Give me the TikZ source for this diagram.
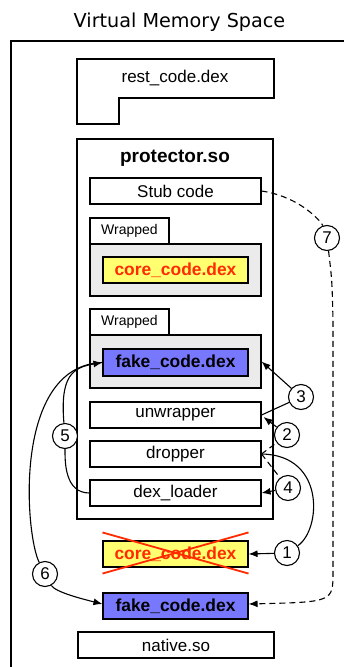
\documentclass[tikz,border=0pt]{standalone}
\usepackage{fontspec}
\setmainfont{Liberation Sans}
\newfontfamily\titlefont{DejaVu Sans}
\usepackage{xcolor}
\usetikzlibrary{arrows.meta}

\definecolor{coreyellow}{HTML}{FFFF70}
\definecolor{fakeblue}{HTML}{7878FF}
\definecolor{wrapgrey}{HTML}{EBEBEB}
\definecolor{dropred}{HTML}{FF2A00}

\tikzset{
  membox/.style={draw, line width=1.1pt, fill=white, inner sep=0pt,
    minimum width=171pt, minimum height=26pt,
    font=\fontsize{17}{19}\selectfont},
  tabbox/.style={membox, minimum width=79pt, font=\fontsize{14}{16}\selectfont},
  wrapbox/.style={membox, fill=wrapgrey, minimum height=52pt},
  dexbox/.style={membox, minimum width=145pt, font=\fontsize{17.4}{19}\selectfont\bfseries},
  stepnum/.style={draw, circle, line width=1.1pt, fill=white, inner sep=0pt,
    minimum size=25pt, font=\fontsize{17}{19}\selectfont},
  flow/.style={line width=1.1pt, -{Latex[length=9pt,width=7pt]}},
  link/.style={line width=1.1pt},
  dashlink/.style={dash pattern=on 6pt off 4pt}
}

\begin{document}
\begin{tikzpicture}[x=1pt, y=-1pt]
  \useasboundingbox (0,0) rectangle (343,667);

  % title and memory frame
  \node[font=\titlefont\fontsize{19.2}{21}\selectfont, anchor=base] (title) at (179.5,27) {Virtual Memory Space};
  \draw[line width=2.4pt] (11,668) -- (11,41) -- (344,41);

  % rest_code.dex
  \draw[line width=1.1pt] (77,59) -- (274,59) -- (274,98) -- (119,98) -- (119,124) -- (77,124) -- cycle;
  \node[font=\fontsize{17}{19}\selectfont] (rest) at (175,78) {rest\_code.dex};

  % protector.so
  \node[membox, minimum width=196pt, minimum height=380pt] (protector) at (175,329) {};
  \node[font=\fontsize{19}{21}\selectfont\bfseries] (protname) at (175,158) {protector.so};
  \node[membox] (stub) at (175.5,191) {Stub code};

  \node[tabbox] (tab1) at (129.5,231) {Wrapped};
  \node[wrapbox] (grey1) at (175.5,270) {};
  \node[dexbox, fill=coreyellow, text=dropred] (core) at (175.5,270) {core\_code.dex};

  \node[tabbox] (tab2) at (129.5,322) {Wrapped};
  \node[wrapbox, minimum height=53pt] (grey2) at (175.5,361.5) {};
  \node[dexbox, fill=fakeblue, minimum height=27pt] (fake) at (175.5,362.5) {fake\_code.dex};

  \node[membox] (unwrapper) at (175.5,415) {unwrapper};
  \node[membox] (dropper) at (175.5,454) {dropper};
  \node[membox] (loader) at (175.5,493) {dex\_loader};

  % dropped files
  \node[dexbox, fill=coreyellow, text=dropred] (core2) at (175.5,554) {core\_code.dex};
  \draw[dropred, line width=1.8pt] ([yshift=8pt]core2.north west) -- ([yshift=-6pt]core2.south east);
  \draw[dropred, line width=1.8pt] ([yshift=-6pt]core2.south west) -- ([yshift=8pt]core2.north east);
  \node[dexbox, fill=fakeblue] (fake2) at (175.5,606) {fake\_code.dex};
  \node[membox, minimum width=196pt] (native) at (176,645) {native.so};

  % steps
  \node[stepnum] (c1) at (287,553) {1};
  \node[stepnum] (c2) at (287,435) {2};
  \node[stepnum] (c3) at (301,397) {3};
  \node[stepnum] (c4) at (288,488) {4};
  \node[stepnum] (c5) at (65,436) {5};
  \node[stepnum] (c6) at (45,574) {6};
  \node[stepnum] (c7) at (327,238) {7};

  \coordinate (d7a) at (333,320);
  \coordinate (d7b) at (333,572);

  % connectors
  \draw[link] (dropper.east) .. controls (326,455) and (321,530) .. (c1);
  \draw[flow] (c1) -- (core2.east);

  \draw[link, dashlink] (dropper.east) -- (c2);
  \draw[flow] (c2) -- ([xshift=2pt,yshift=-2pt]unwrapper.east);

  \draw[link] (unwrapper.east) -- (c3);
  \draw[flow] (c3) -- (grey2.east);

  \draw[link, dashlink] (dropper.east) -- (c4);
  \draw[flow] (c4) -- (loader.east);

  \draw[link] (loader.west) .. controls +(-25,0) and +(0,25) .. (c5);
  \draw[flow] (c5) .. controls +(-5,-60) and +(-30,5) .. (fake.west);

  \draw[link] (fake.west) .. controls +(-90,3) and +(-20,-40) .. (c6);
  \draw[flow] (c6) .. controls +(10,18) and +(-20,-5) .. ([yshift=2pt]fake2.west);

  \draw[link, dashlink] (stub.east) .. controls +(40,6) and +(-5,-15) .. (c7);
  \draw[flow, dashlink] (c7) .. controls (332,280) .. (d7a) -- (d7b)
    .. controls (333,602) .. ([yshift=2pt]fake2.east);
\end{tikzpicture}
\end{document}
